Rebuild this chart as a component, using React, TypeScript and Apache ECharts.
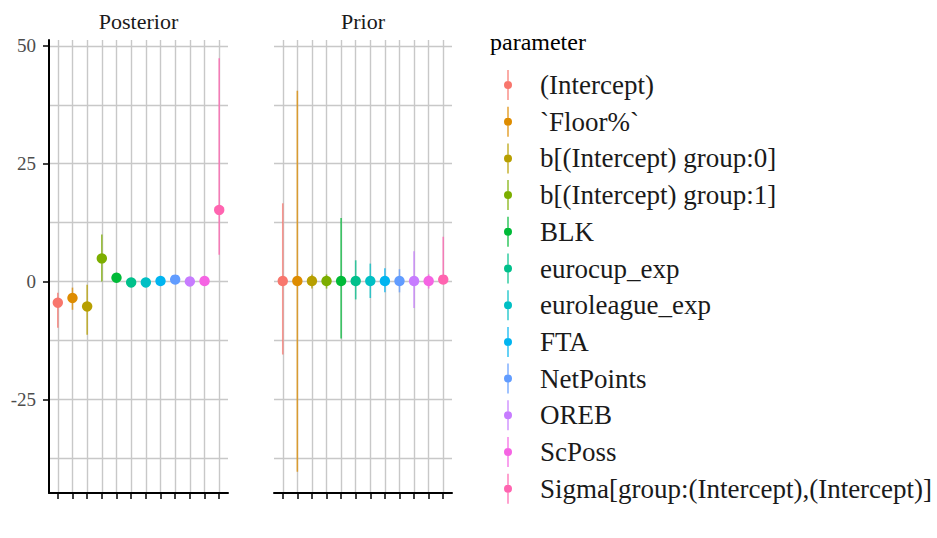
import React, { useEffect, useRef } from "react";
import * as echarts from "echarts";

// Parameters in plotting order and their ggplot-style hue colours
const parameters = [
  "(Intercept)",
  "`Floor%`",
  "b[(Intercept) group:0]",
  "b[(Intercept) group:1]",
  "BLK",
  "eurocup_exp",
  "euroleague_exp",
  "FTA",
  "NetPoints",
  "OREB",
  "ScPoss",
  "Sigma[group:(Intercept),(Intercept)]",
];
const colors = [
  "#F8766D", "#DE8C00", "#B79F00", "#7CAE00", "#00BA38", "#00C08B",
  "#00BFC4", "#00B4F0", "#619CFF", "#C77CFF", "#F564E3", "#FF64B0",
];

// Posterior: point estimate and interval
const posteriorEst = [-4.5, -3.5, -5.3, 4.9, 0.8, -0.2, -0.2, 0.1, 0.4, 0.0, 0.1, 15.2];
const posteriorLow = [-9.8, -6.0, -11.3, 0.0, 0.0, -0.7, -0.7, -0.4, -0.1, -0.5, -0.4, 5.7];
const posteriorHigh = [-2.4, -1.3, -0.7, 10.0, 1.6, 0.3, 0.3, 0.6, 0.9, 0.5, 0.6, 47.4];

// Prior: point estimate and interval
const priorEst = [0.1, 0.1, 0.1, 0.1, 0.1, 0.1, 0.1, 0.1, 0.1, 0.1, 0.1, 0.4];
const priorLow = [-15.5, -40.4, -1.5, -1.5, -12.1, -3.8, -3.5, -2.3, -2.3, -5.6, -1.5, 0.0];
const priorHigh = [16.6, 40.5, 1.5, 1.5, 13.5, 4.5, 3.8, 2.8, 2.6, 6.4, 1.5, 9.5];

// Axis breaks
const yBreaks = [-25, 0, 25, 50];
const yMinorBreaks = [-37.5, -12.5, 12.5, 37.5];
const yMin = -44.9;
const yMax = 51.27;
const xMin = 0.4;
const xMax = 12.6;

const facets = ["Posterior", "Prior"];

const SERIF = "'Liberation Serif', 'Times New Roman', serif";
const legendIcon =
  "path://M4.4,0L5.6,0L5.6,11.5L4.4,11.5Z M4.4,18.5L5.6,18.5L5.6,30L4.4,30Z M1,15A4,4,0,1,1,9,15A4,4,0,1,1,1,15Z";

export default function App() {
  const ref = useRef<HTMLDivElement>(null);

  useEffect(() => {
    if (!ref.current) return;
    const chart = echarts.init(ref.current, undefined, { renderer: "svg" });

    const positions = parameters.map((_, i) => i + 1);
    const estimates = [posteriorEst, priorEst];
    const lows = [posteriorLow, priorLow];
    const highs = [posteriorHigh, priorHigh];

    const grids = [
      { left: 49, top: 40, width: 179, height: 453 },
      { left: 274, top: 40, width: 178, height: 453 },
    ];

    const xAxes = grids.map((_, g) => ({
      gridIndex: g,
      type: "value",
      min: xMin,
      max: xMax,
      z: 6,
      axisLine: { show: true, onZero: false, lineStyle: { color: "#000", width: 2 } },
      axisTick: {
        show: true,
        customValues: positions,
        length: 6,
        lineStyle: { color: "#000", width: 1.5 },
      },
      axisLabel: { show: false },
      splitLine: { show: false },
    }));

    const yAxes = grids.map((_, g) => ({
      gridIndex: g,
      type: "value",
      min: yMin,
      max: yMax,
      z: 6,
      axisLine: { show: g === 0, onZero: false, lineStyle: { color: "#000", width: 2 } },
      axisTick: {
        show: g === 0,
        customValues: yBreaks,
        length: 6,
        lineStyle: { color: "#000", width: 1.5 },
      },
      axisLabel: {
        show: g === 0,
        customValues: yBreaks,
        margin: 13,
        color: "#4d4d4d",
        fontFamily: SERIF,
        fontSize: 19,
      },
      splitLine: { show: false },
    }));

    // Panel grid lines, drawn beneath the marks
    const gridSeries = grids.map((_, g) => ({
      type: "line",
      xAxisIndex: g,
      yAxisIndex: g,
      data: [],
      z: 1,
      silent: true,
      markLine: {
        z: 1,
        silent: true,
        symbol: ["none", "none"],
        label: { show: false },
        emphasis: { disabled: true },
        lineStyle: { color: "#c8c8c8", width: 1.4, type: "solid" },
        data: [
          ...yBreaks.map((v) => ({ yAxis: v })),
          ...yMinorBreaks.map((v) => ({ yAxis: v })),
          ...positions.map((v) => ({ xAxis: v })),
        ],
      },
    }));

    // Point + interval per parameter per facet
    const markSeries: any[] = [];
    grids.forEach((_, g) => {
      parameters.forEach((name, i) => {
        const color = colors[i];
        markSeries.push({
          type: "custom",
          name,
          xAxisIndex: g,
          yAxisIndex: g,
          z: 10,
          itemStyle: { color },
          encode: { x: 0, y: [1, 2, 3] },
          data: [[positions[i], estimates[g][i], lows[g][i], highs[g][i]]],
          renderItem: (_params: any, api: any) => {
            const x = api.value(0);
            const p = api.coord([x, api.value(1)]);
            const a = api.coord([x, api.value(2)]);
            const b = api.coord([x, api.value(3)]);
            return {
              type: "group",
              children: [
                {
                  type: "line",
                  shape: { x1: a[0], y1: a[1], x2: b[0], y2: b[1] },
                  style: { stroke: color, lineWidth: 1.6, opacity: 0.75 },
                },
                {
                  type: "circle",
                  shape: { cx: p[0], cy: p[1], r: 5.2 },
                  style: { fill: color },
                },
              ],
            };
          },
        });
      });
    });

    chart.setOption({
      animation: false,
      backgroundColor: "#ffffff",
      grid: grids,
      xAxis: xAxes,
      yAxis: yAxes,
      legend: {
        orient: "vertical",
        left: 504,
        top: 70,
        padding: 0,
        itemWidth: 8,
        itemHeight: 30,
        itemGap: 6.7,
        selectedMode: false,
        textStyle: {
          fontFamily: SERIF,
          fontSize: 27,
          color: "#1a1a1a",
          lineHeight: 30,
          padding: [0, 0, 0, 23],
        },
        data: parameters.map((name) => ({ name, icon: legendIcon })),
      },
      graphic: [
        ...facets.map((text, g) => ({
          type: "text",
          x: grids[g].left + grids[g].width / 2,
          y: 21,
          style: {
            text,
            align: "center",
            verticalAlign: "middle",
            fontFamily: SERIF,
            fontSize: 22,
            fill: "#1a1a1a",
          },
        })),
        {
          type: "text",
          x: 490,
          y: 42,
          style: {
            text: "parameter",
            align: "left",
            verticalAlign: "middle",
            fontFamily: SERIF,
            fontSize: 24,
            fill: "#000000",
          },
        },
      ],
      series: [...gridSeries, ...markSeries],
    });

    return () => chart.dispose();
  }, []);

  return (
    <div
      ref={ref}
      style={{ position: "fixed", left: 0, top: 0, width: 937, height: 538 }}
    />
  );
}
